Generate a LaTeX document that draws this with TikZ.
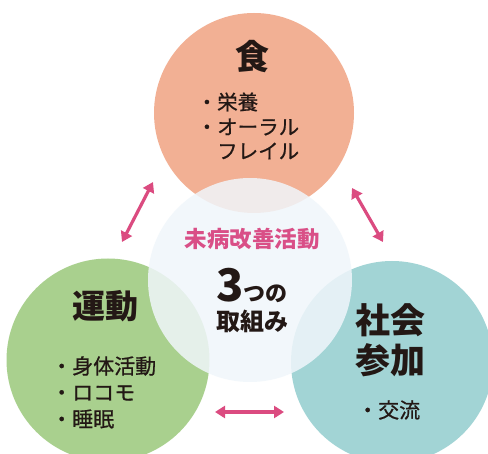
\documentclass[tikz,border=0pt]{standalone}
\usepackage{fontspec}
\usetikzlibrary{arrows.meta}
\newfontfamily\jp{Noto Sans CJK JP}
\newfontfamily\jpm[FakeBold=0.7]{Noto Sans CJK JP}
\definecolor{cOrange}{HTML}{F2B094}
\definecolor{cGreen}{HTML}{A9D08E}
\definecolor{cTeal}{HTML}{A2D4D5}
\definecolor{cCore}{HTML}{F0F6FB}
\definecolor{cPink}{HTML}{D94F87}
\definecolor{cArrow}{HTML}{DB4B80}
\definecolor{cText}{HTML}{231815}
\tikzset{
  bigcircle/.style={circle, inner sep=0pt, minimum size=#1},
  head/.style={font=\jp\bfseries\fontsize{34}{38}\selectfont, text=cText, inner sep=0pt},
  item/.style={font=\jpm\fontsize{20.5}{24}\selectfont, text=cText, inner sep=0pt, anchor=west},
  link/.style={draw=cArrow, line width=3.2pt, {Triangle[length=10pt,width=12pt]}-{Triangle[length=10pt,width=12pt]}}
}
\begin{document}
\begin{tikzpicture}[x=1pt,y=-1pt]
\useasboundingbox (0,0) rectangle (488,454);
\clip (0,0) rectangle (488,454);
\fill[white] (0,0) rectangle (488,454);
\node[bigcircle=200pt, fill=cOrange] (food) at (254,113) {};
\node[bigcircle=203pt, fill=cGreen] (move) at (108,360) {};
\node[bigcircle=202pt, fill=cTeal] (soc) at (392,362) {};
\node[bigcircle=204pt, fill=cCore, fill opacity=0.85] (core) at (250,280) {};
% top
\node[head] (tf) at (252,57) {食};
\node[item] (t1) at (196.5,102) {・栄養};
\node[item] (t2) at (196.5,127) {・オーラル};
\node[item] (t3) at (217,151) {フレイル};
% left
\node[head, font=\jp\bfseries\fontsize{33}{38}\selectfont] (mv) at (105,306) {運動};
\node[item, font=\jpm\fontsize{21}{24}\selectfont] (m1) at (51,366) {・身体活動};
\node[item, font=\jpm\fontsize{21}{24}\selectfont] (m2) at (51,393) {・ロコモ};
\node[item, font=\jpm\fontsize{21}{24}\selectfont] (m3) at (51,419) {・睡眠};
% right
\node[head, font=\jp\bfseries\fontsize{35}{38}\selectfont] (s1) at (390,320) {社会};
\node[head, font=\jp\bfseries\fontsize{35}{38}\selectfont] (s2) at (390,360) {参加};
\node[item, font=\jpm\fontsize{21}{24}\selectfont] (s3) at (357,410) {・交流};
% center
\node[inner sep=0pt, text=cPink, font=\jp\bfseries\fontsize{22.5}{26}\selectfont] (c1) at (252,239) {未病改善活動};
\node[inner sep=0pt, text=cText, anchor=base, font=\jp\bfseries] (c2) at (252,302) {{\fontsize{45}{48}\selectfont 3}{\fontsize{22}{26}\selectfont つの}};
\node[inner sep=0pt, text=cText, font=\jp\bfseries\fontsize{24}{28}\selectfont] (c3) at (252,321) {取組み};
% arrows
\coordinate (a1s) at (153,182);
\coordinate (a1e) at (122,242);
\coordinate (a2s) at (352,188);
\coordinate (a2e) at (383,242);
\coordinate (a3s) at (215,412);
\coordinate (a3e) at (284,412);
\draw[link] (a1s) -- (a1e);
\draw[link] (a2s) -- (a2e);
\draw[link] (a3s) -- (a3e);
\end{tikzpicture}
\end{document}
